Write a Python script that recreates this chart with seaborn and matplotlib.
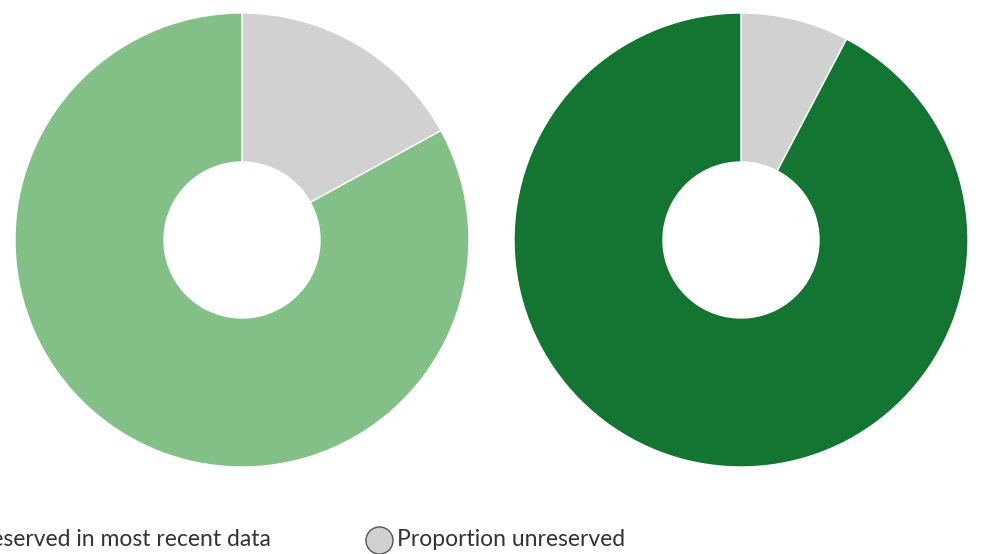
import matplotlib
matplotlib.use("Agg")
import matplotlib.pyplot as plt
import seaborn as sns

sns.set_theme(style="white")
plt.rcParams['font.family'] = ['Lato', 'DejaVu Sans']

# Data
donut_labels = ["Earlier data", "Most recent data"]
unreserved = [17.0, 7.7]
reserved = [83.0, 92.3]
reserved_colors = ["#82C087", "#147533"]
unreserved_color = "#D0D1D0"
legend_labels = ["Proportion reserved in most recent data", "Proportion unreserved"]

W, H = 984, 554
fig = plt.figure(figsize=(W / 100, H / 100), dpi=100)

centers = [242, 741]
R = 227
for cx, u, r, col in zip(centers, unreserved, reserved, reserved_colors):
    ax = fig.add_axes([(cx - R) / W, (H - 240 - R) / H, 2 * R / W, 2 * R / H])
    ax.pie([u, r], colors=[unreserved_color, col], startangle=90, counterclock=False,
           radius=1, wedgeprops=dict(width=1 - 78 / R, edgecolor="white", linewidth=1))
    ax.set_xlim(-1, 1)
    ax.set_ylim(-1, 1)
    ax.axis("off")

# Legend row
leg = fig.add_axes([0, 0, 1, 1])
leg.set_xlim(0, W)
leg.set_ylim(H, 0)
leg.axis("off")
leg.text(271, 540, legend_labels[0], ha="right", va="center", fontsize=16.5, color="#333333")
leg.scatter([379], [540], s=380, color=unreserved_color, edgecolor="#555555", linewidth=1, clip_on=False)
leg.text(397, 540, legend_labels[1], ha="left", va="center", fontsize=16.5, color="#333333")

fig.savefig("out.png", dpi=100)
